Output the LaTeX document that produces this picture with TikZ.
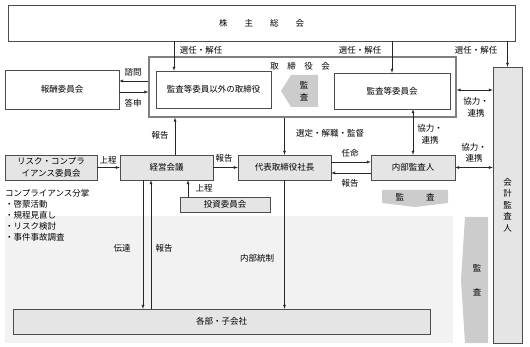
\documentclass[tikz,border=0pt]{standalone}
\usepackage{fontspec}
\setmainfont{Noto Sans CJK JP}
\usepackage{tikz}
\usetikzlibrary{arrows,positioning}
\newcommand\jpfont{\fontsize{8.5}{11.5}\selectfont}

\begin{document}
\begin{tikzpicture}[x=1pt, y=-1pt,
  wbox/.style={rectangle, draw=black!70, fill=white, inner sep=0pt, align=center, font=\jpfont},
  gbox/.style={wbox, fill=gray!20},
  frame/.style={rectangle, draw=gray, line width=1.2pt, inner sep=0pt},
  lbl/.style={inner sep=0pt, align=center, font=\jpfont},
  auditfill/.style={fill=gray!40},
  arrow/.style={->, >=latex, draw=black!85},
  both/.style={<->, >=latex, draw=black!85}
]
  \useasboundingbox (0,0) rectangle (530,347);
  \fill[gray!10] (5,216) rectangle (453,343);

  \node[wbox, minimum width=507pt, minimum height=36pt] (share) at (261.5,23) {株\hspace{2em}主\hspace{2em}総\hspace{2em}会};
  \node[frame, minimum width=307pt, minimum height=60pt] (board) at (302.5,87) {};
  \node[lbl] (boardlbl) at (300,66) {取\hspace{1em}締\hspace{1em}役\hspace{1em}会};
  \node[wbox, minimum width=115pt, minimum height=37pt] (nonaudit) at (213.5,89.5) {監査等委員以外の取締役};
  \node[wbox, minimum width=116pt, minimum height=36pt] (acomm) at (392,91) {監査等委員会};
  \node[wbox, minimum width=114pt, minimum height=39pt] (comp) at (62,89.5) {報酬委員会};
  \node[gbox, minimum width=29pt, minimum height=276pt] (acct) at (507.5,205) {会\\計\\監\\査\\人};
  \node[gbox, minimum width=92pt, minimum height=25pt] (rc) at (51,167.5) {リスク・コンプラ\\イアンス委員会};
  \node[gbox, minimum width=93pt, minimum height=25pt] (mgmt) at (166.5,167.5) {経営会議};
  \node[gbox, minimum width=93pt, minimum height=25pt] (ceo) at (284.5,167.5) {代表取締役社長};
  \node[gbox, minimum width=84pt, minimum height=25pt] (internal) at (413,167.5) {内部監査人};
  \node[gbox, minimum width=90pt, minimum height=15pt] (invest) at (225,204.5) {投資委員会};
  \node[gbox, minimum width=417pt, minimum height=25pt] (depts) at (221.5,321.5) {各部・子会社};
  \node[lbl, align=left, anchor=west, font=\fontsize{8.5}{11}\selectfont] (cmplist) at (5,215) {コンプライアンス分掌\\・啓蒙活動\\・規程見直し\\・リスク検討\\・事件事故調査};

  \fill[auditfill] (281,91) -- (291,75) -- (318,75) -- (318,107) -- (291,107) -- cycle;
  \node[lbl] (boardaudit) at (304,91) {監\\査};
  \fill[auditfill] (382,190) -- (448,190) -- (448,203) -- (415,207) -- (382,203) -- cycle;
  \node[lbl] (innaudit) at (415,197) {監\hspace{22pt}査};
  \fill[auditfill] (465,217) -- (488,217) -- (488,343) -- (465,343) -- (461,280) -- cycle;
  \node[lbl, font=\fontsize{8.5}{24}\selectfont] (extaudit) at (477,280) {監\\査};

  \draw[arrow] ([xshift=-39.5pt]nonaudit.north |- share.south) -- ([xshift=-39.5pt]nonaudit.north);
  \draw[arrow] (acomm.north |- share.south) -- (acomm.north);
  \draw[arrow] (acct.north |- share.south) -- (acct.north);
  \draw[arrow] ([yshift=6pt]board.west) -- ([yshift=6pt]board.west -| comp.east);
  \draw[arrow] ([yshift=-5pt]board.west -| comp.east) -- ([yshift=-5pt]board.west);
  \draw[both] ([yshift=-3pt]board.east) -- ([yshift=-3pt]board.east -| acct.west);
  \draw[arrow] ([xshift=8.5pt]mgmt.north) -- ([xshift=8.5pt]mgmt.north |- board.south);
  \draw[arrow] (ceo.north |- board.south) -- (ceo.north);
  \draw[both] (internal.north |- acomm.south) -- (internal.north);
  \draw[arrow] (rc) -- (mgmt);
  \draw[arrow] (mgmt) -- (ceo);
  \draw[arrow] ([yshift=5.5pt]ceo.east) -- ([yshift=5.5pt]ceo.east -| internal.west);
  \draw[arrow] ([yshift=-5.5pt]internal.west) -- ([yshift=-5.5pt]internal.west -| ceo.east);
  \draw[both] (internal.east) -- (internal.east -| acct.west);
  \draw[arrow] ([xshift=-37pt]invest.north) -- ([xshift=-37pt]invest.north |- mgmt.south);
  \draw[arrow] ([xshift=-23.5pt]mgmt.south) -- ([xshift=-23.5pt]mgmt.south |- depts.north);
  \draw[arrow] ([xshift=-15.5pt]mgmt.south |- depts.north) -- ([xshift=-15.5pt]mgmt.south);
  \draw[arrow] (ceo.south) -- (ceo.south |- depts.north);

  \node[lbl] (selA) at (201,50) {選任・解任};
  \node[lbl] (selB) at (360,50) {選任・解任};
  \node[lbl] (selC) at (476,50) {選任・解任};
  \node[lbl] (consult) at (133,72) {諮問};
  \node[lbl] (answer) at (133,103) {答申};
  \node[lbl] (coopA) at (476,107.5) {協力・\\連携};
  \node[lbl] (reportA) at (160,135) {報告};
  \node[lbl] (supervise) at (330,133) {選定・解職・監督};
  \node[lbl] (coopB) at (430,134.5) {協力・\\連携};
  \node[lbl] (coopC) at (474,153) {協力・\\連携};
  \node[lbl] (appoint) at (350,153) {任命};
  \node[lbl] (reportB) at (350,183) {報告};
  \node[lbl] (submitA) at (108,160) {上程};
  \node[lbl] (reportC) at (224,158) {報告};
  \node[lbl] (submitB) at (204,188) {上程};
  \node[lbl] (convey) at (122,248) {伝達};
  \node[lbl] (reportD) at (164,248) {報告};
  \node[lbl] (control) at (257,258) {内部統制};
\end{tikzpicture}
\end{document}
